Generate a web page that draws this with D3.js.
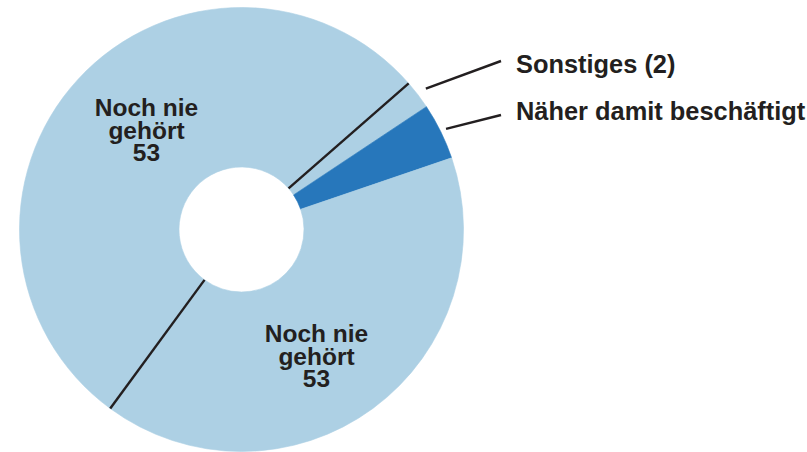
<!DOCTYPE html>
<html>
<head>
<meta charset="utf-8">
<script src="https://cdn.jsdelivr.net/npm/d3@7"></script>
<style>
  html, body { margin: 0; padding: 0; background: #fff; }
  svg { display: block; }
  text { font-family: "Liberation Sans", Arial, Helvetica, sans-serif; font-weight: bold; fill: #231f20; }
</style>
</head>
<body>
<svg id="chart" width="807" height="452"></svg>
<script>
// ---- data (clockwise, starting at the "Sonstiges" slice) ----
const categories = ["Sonstiges", "Näher damit beschäftigt", "Noch nie gehört (unten)", "Noch nie gehört (oben)"];
const values = [2.1, 4.1, 40.3, 53.5];
const sliceLabels = [
  ["Sonstiges (2)"],
  ["Näher damit beschäftigt"],
  ["Noch nie", "gehört", "53"],
  ["Noch nie", "gehört", "53"]
];

// ---- layout / style ----
const W = 807, H = 452;
const cx = 241.5, cy = 229.5;
const rOuter = 222, rInner = 62.5;
const startDeg = 48.85;
const lightBlue = "#add0e4", darkBlue = "#2777bb";
const separators = [3, 0];              // slice indices whose start angle gets a dark divider line
const outsideLabels = { 0: { lineEnd: [501, 61], text: [516, 73] },
                        1: { lineEnd: [501, 115], text: [516, 120] } };
const outsideLineStart = { 0: rOuter + 10, 1: rOuter + 6 };
const insideLabelPos = { 3: [146.5, 116], 2: [316.5, 342] };   // baseline of first line
const lineStep = 22.6;

const svg = d3.select("#chart");
const g = svg.append("g").attr("transform", `translate(${cx},${cy})`);

const toRad = d => d * Math.PI / 180;
const pie = d3.pie().sort(null).value(d => d)
  .startAngle(toRad(startDeg)).endAngle(toRad(startDeg + 360));
const arcs = pie(values);
const arc = d3.arc().innerRadius(rInner).outerRadius(rOuter);

g.selectAll("path.slice").data(arcs).enter().append("path")
  .attr("class", "slice")
  .attr("d", arc)
  .attr("fill", (d, i) => i === 1 ? darkBlue : lightBlue)
  .attr("stroke", (d, i) => i === 1 ? darkBlue : lightBlue)
  .attr("stroke-width", 0.6);

// divider lines
const pt = (a, r) => [Math.sin(a) * r, -Math.cos(a) * r];
separators.forEach(i => {
  const a = arcs[i].startAngle;
  const p0 = pt(a, rInner), p1 = pt(a, rOuter);
  g.append("line")
    .attr("x1", p0[0]).attr("y1", p0[1]).attr("x2", p1[0]).attr("y2", p1[1])
    .attr("stroke", "#231f20").attr("stroke-width", 2.4);
});

// outside labels with leader lines
Object.keys(outsideLabels).forEach(k => {
  const i = +k, d = arcs[i];
  const mid = (d.startAngle + d.endAngle) / 2;
  const p0 = pt(mid, outsideLineStart[i]);
  const cfg = outsideLabels[i];
  svg.append("line")
    .attr("x1", cx + p0[0]).attr("y1", cy + p0[1])
    .attr("x2", cfg.lineEnd[0]).attr("y2", cfg.lineEnd[1])
    .attr("stroke", "#231f20").attr("stroke-width", 2.4);
  svg.append("text")
    .attr("x", cfg.text[0]).attr("y", cfg.text[1])
    .attr("font-size", 25.4)
    .text(sliceLabels[i][0]);
});

// inside labels
Object.keys(insideLabelPos).forEach(k => {
  const i = +k, pos = insideLabelPos[i];
  const t = svg.append("text").attr("text-anchor", "middle").attr("font-size", 24.5);
  sliceLabels[i].forEach((line, j) => {
    t.append("tspan").attr("x", pos[0]).attr("y", pos[1] + j * lineStep).text(line);
  });
});
</script>
</body>
</html>
